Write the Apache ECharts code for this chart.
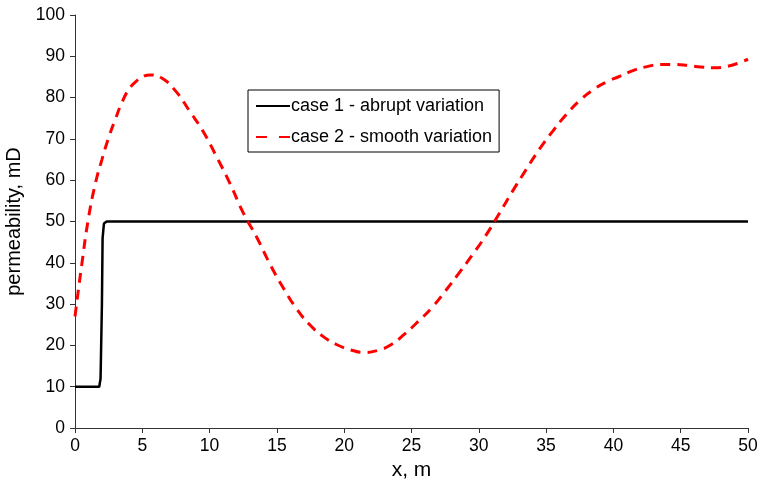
<!DOCTYPE html>
<html>
<head>
<meta charset="utf-8">
<script src="https://cdn.jsdelivr.net/npm/echarts@6/dist/echarts.min.js"></script>
<style>
html,body{margin:0;padding:0;background:#fff;}
#chart{width:760px;height:484px;}
</style>
</head>
<body>
<div id="chart"></div>
<script>
// Data
var seriesNames = ['case 1 - abrupt variation', 'case 2 - smooth variation'];
var case1X = [0, 1.8, 1.9, 2.0, 2.05, 2.15, 2.35, 50];
var case1Y = [10, 10, 12, 30, 46, 49.5, 50, 50];
var case2X = [0, 0.5, 1, 1.5, 2, 2.5, 3, 3.5, 4, 4.5, 5, 5.6, 6.5, 7.5, 8.5, 9.5, 10.5, 11.5, 12.5, 13.5, 14.5, 15.5, 16.5, 17.5, 18.5, 19.5, 20.5, 21.5, 22.5, 23.5, 24.5, 25.5, 26.5, 27.5, 28.5, 29.5, 30.5, 31.5, 32.5, 33.5, 34.5, 35.5, 36.5, 37.5, 38.5, 39.5, 40.5, 41.5, 42.5, 43.5, 44.5, 45.5, 46.5, 47.5, 48.5, 49.5, 50];
var case2Y = [27, 39.5, 50.8, 59, 65, 70.3, 74.8, 78.9, 82, 83.8, 85, 85.5, 84.6, 81.5, 76.8, 71.9, 65.8, 59.3, 52.1, 46.2, 39.6, 33.8, 28.7, 24.8, 22.0, 20.1, 18.9, 18.3, 18.8, 20.2, 22.8, 25.8, 29.1, 33.1, 37.4, 41.8, 46.5, 51.8, 57.3, 62.5, 67.5, 71.9, 75.9, 79.3, 81.9, 83.8, 85.2, 86.6, 87.5, 88.0, 88.0, 87.8, 87.4, 87.2, 87.6, 88.6, 89.3];
var xTitle = 'x, m';
var yTitle = 'permeability, mD';

function pairs(xs, ys) { return xs.map(function (x, i) { return [x, ys[i]]; }); }

var FONT = 'Liberation Sans, Arial, sans-serif';
var chart = echarts.init(document.getElementById('chart'), null, {renderer: 'canvas'});
chart.setOption({
  animation: false,
  backgroundColor: '#fff',
  grid: {left: 75, right: 12, top: 15, bottom: 56, containLabel: false, outerBoundsMode: 'none'},
  legend: {
    orient: 'vertical',
    left: 248, top: 90,
    padding: [7, 7, 6, 7],
    itemWidth: 34, itemHeight: 14, itemGap: 13,
    borderColor: '#000', borderWidth: 1,
    backgroundColor: '#fff',
    itemStyle: {opacity: 0},
    textStyle: {fontFamily: FONT, fontSize: 18, color: '#000', padding: [0, 0, 0, -4]},
    data: [
      {name: seriesNames[0]},
      {name: seriesNames[1], lineStyle: {type: [11, 12]}}
    ]
  },
  xAxis: {
    type: 'value', min: 0, max: 50, interval: 5,
    name: xTitle, nameLocation: 'middle', nameGap: 31,
    nameTextStyle: {fontFamily: FONT, fontSize: 21, color: '#000'},
    axisLine: {show: true, lineStyle: {color: '#333', width: 1}},
    axisTick: {show: true, inside: false, length: 5, lineStyle: {color: '#333'}},
    axisLabel: {fontFamily: FONT, fontSize: 17.5, color: '#000', margin: 9},
    splitLine: {show: false}
  },
  yAxis: {
    type: 'value', min: 0, max: 100, interval: 10,
    name: yTitle, nameLocation: 'middle', nameGap: 44, nameRotate: 90,
    nameTextStyle: {fontFamily: FONT, fontSize: 20, color: '#000'},
    axisLine: {show: true, lineStyle: {color: '#333', width: 1}},
    axisTick: {show: true, inside: false, length: 5, lineStyle: {color: '#333'}},
    axisLabel: {fontFamily: FONT, fontSize: 17.5, color: '#000', margin: 10},
    splitLine: {show: false}
  },
  series: [
    {
      name: seriesNames[0], type: 'line', data: pairs(case1X, case1Y),
      symbol: 'none', smooth: false,
      lineStyle: {color: '#000', width: 2.5},
      itemStyle: {color: '#000'}
    },
    {
      name: seriesNames[1], type: 'line', data: pairs(case2X, case2Y),
      symbol: 'none', smooth: true,
      lineStyle: {color: '#ff0000', width: 3, type: [10, 7]},
      itemStyle: {color: '#ff0000'}
    }
  ]
});
</script>
</body>
</html>
